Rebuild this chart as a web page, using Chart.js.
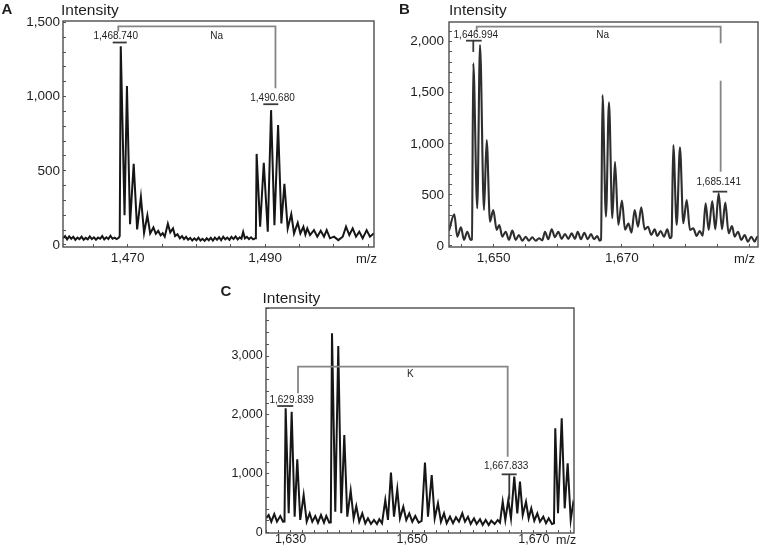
<!DOCTYPE html>
<html>
<head>
<meta charset="utf-8">
<title>Mass spectra A, B, C</title>
<script src="https://cdn.jsdelivr.net/npm/chart.js"></script>
<style>
  body { margin: 0; background: #fff; }
  #page { position: relative; width: 761px; height: 547px; overflow: hidden;
          font-family: "Liberation Sans", Arial, Helvetica, sans-serif; color: #1e1e1e; }
  #page canvas, #page .txt { position: absolute; }
  .txt { white-space: nowrap; }
  .letter { font-weight: bold; font-size: 15px; line-height: 15px; }
  .axis { font-size: 15.5px; line-height: 16px; }
  .unit { font-size: 13px; line-height: 13px; }
</style>
</head>
<body>
<div id="page">
  <canvas id="chartA" width="380" height="275" style="left:0;top:0"></canvas>
  <canvas id="chartB" width="381" height="275" style="left:380px;top:0"></canvas>
  <canvas id="chartC" width="360" height="267" style="left:220px;top:280px"></canvas>

  <div class="txt letter" style="left:1.5px;top:1.3px">A</div>
  <div class="txt axis" style="left:61px;top:1.6px">Intensity</div>
  <div class="txt unit" style="left:356px;top:251.5px">m/z</div>

  <div class="txt letter" style="left:399px;top:1.3px">B</div>
  <div class="txt axis" style="left:449px;top:1.6px">Intensity</div>
  <div class="txt unit" style="left:734px;top:251.5px">m/z</div>

  <div class="txt letter" style="left:220.5px;top:283px">C</div>
  <div class="txt axis" style="left:262.5px;top:290px">Intensity</div>
  <div class="txt unit" style="left:556px;top:534px;font-size:12.5px">m/z</div>
</div>

<script>
// ---------- panel A (Na adduct, 1,468.740 / 1,490.680)
var aMz = [1460.6, 1460.9, 1461.2, 1461.5, 1461.8, 1462.1, 1462.4, 1462.7, 1463.0, 1463.3,
  1463.6, 1463.9, 1464.2, 1464.5, 1464.8, 1465.1, 1465.4, 1465.7, 1466.0, 1466.3,
  1466.6, 1466.9, 1467.2, 1467.5, 1467.8, 1468.1, 1468.4, 1468.7, 1468.85, 1469.0,
  1469.55, 1469.9, 1470.35, 1470.88, 1471.38, 1471.93, 1472.39, 1472.87, 1473.28, 1473.75,
  1474.1, 1474.45, 1474.8, 1475.1, 1475.4, 1475.85, 1476.2, 1476.6, 1476.9, 1477.25,
  1477.6, 1477.9, 1478.2, 1478.5, 1478.8, 1479.1, 1479.4, 1479.7, 1480.0, 1480.3,
  1480.6, 1480.9, 1481.2, 1481.5, 1481.8, 1482.1, 1482.4, 1482.7, 1483.0, 1483.3,
  1483.6, 1483.9, 1484.2, 1484.5, 1484.8, 1485.1, 1485.4, 1485.7, 1486.0, 1486.3,
  1486.55, 1486.8, 1487.05, 1487.35, 1487.65, 1487.95, 1488.25, 1488.55, 1488.65, 1488.76,
  1489.27, 1489.8, 1490.38, 1490.86, 1491.35, 1491.88, 1492.36, 1492.8, 1493.28, 1493.8,
  1494.2, 1494.74, 1495.12, 1495.56, 1495.85, 1496.13, 1496.53, 1497.1, 1497.58, 1498.08,
  1498.56, 1498.95, 1499.43, 1500.02, 1500.64, 1501.28, 1501.76, 1502.24, 1502.73, 1503.21,
  1503.69, 1504.18, 1504.76, 1505.24, 1505.83];
var aIntensity = [45, 60, 38, 58, 42, 55, 35, 50, 40, 56,
  36, 48, 38, 58, 40, 52, 36, 50, 42, 60,
  38, 52, 40, 62, 42, 50, 40, 48, 60, 1340,
  200, 1072, 140, 547, 105, 323, 82, 200, 78, 118,
  75, 95, 65, 80, 56, 143, 85, 112, 60, 72,
  45, 60, 40, 55, 35, 48, 30, 45, 32, 50,
  30, 42, 28, 45, 32, 48, 30, 50, 35, 52,
  32, 55, 38, 50, 35, 55, 40, 58, 38, 52,
  42, 88, 45, 55, 40, 52, 38, 45, 55, 614,
  123, 554, 89, 909, 134, 808, 145, 413, 112, 208,
  78, 150, 78, 123, 70, 112, 67, 100, 56, 96,
  56, 100, 45, 56, 33, 56, 123, 67, 112, 56,
  90, 45, 100, 56, 80];
var aXLabels = [1470, 1490];
var aYLabels = [0, 500, 1000, 1500];
var aBrackets = [[[1468.64, 1440], [1468.64, 1474], [1491.5, 1474], [1491.5, 1057]]];
var aMarks = [[[1467.83, 1365], [1469.87, 1365]], [[1489.73, 949], [1491.91, 949]]];
var aTexts = [['1,468.740', 1468.27, 1405], ['1,490.680', 1491.07, 989], ['Na', 1482.96, 1405]];

// ---------- panel B (Na adduct, 1,646.994 / 1,685.141)
var bMz = [1643.02, 1643.85, 1644.31, 1644.89, 1645.36, 1645.87, 1646.40, 1646.6, 1646.81, 1647.43,
  1647.86, 1648.48, 1648.90, 1649.42, 1649.93, 1650.46, 1650.87, 1651.34, 1651.87, 1652.38,
  1652.90, 1653.43, 1653.94, 1654.46, 1654.99, 1655.50, 1656.02, 1656.55, 1657.06, 1657.58,
  1658.00, 1658.52, 1659.05, 1659.56, 1660.08, 1660.61, 1661.12, 1661.64, 1662.17, 1662.68,
  1663.11, 1663.62, 1664.14, 1664.67, 1665.18, 1665.65, 1666.16, 1666.54, 1666.75, 1666.98,
  1667.52, 1667.99, 1668.51, 1668.93, 1669.44, 1670.02, 1670.49, 1671.03, 1671.50, 1672.00,
  1672.52, 1673.03, 1673.56, 1674.08, 1674.59, 1675.12, 1675.53, 1676.06, 1676.58, 1677.09,
  1677.51, 1677.75, 1678.03, 1678.56, 1679.07, 1679.59, 1680.12, 1680.63, 1681.15, 1681.68,
  1682.15, 1682.62, 1683.08, 1683.55, 1684.11, 1684.58, 1685.11, 1685.63, 1686.14, 1686.67,
  1687.19, 1687.61, 1688.13, 1688.64, 1689.17, 1689.68, 1690.20, 1690.73, 1691.14, 1691.25];
var bIntensity = [150, 310, 91, 183, 59, 140, 59, 65, 1788, 369,
  1968, 352, 1038, 238, 352, 157, 206, 91, 140, 59,
  150, 59, 108, 52, 91, 52, 85, 52, 75, 55,
  140, 66, 163, 85, 140, 70, 117, 70, 124, 70,
  140, 66, 130, 66, 117, 66, 98, 52, 60, 1478,
  287, 1407, 271, 825, 206, 444, 160, 220, 130, 352,
  189, 379, 163, 189, 108, 163, 98, 147, 91, 163,
  75, 90, 989, 206, 966, 222, 450, 157, 173, 98,
  147, 100, 418, 157, 440, 163, 516, 163, 424, 124,
  196, 91, 140, 59, 108, 42, 91, 42, 91, 85];
var bXLabels = [1650, 1670];
var bYLabels = [0, 500, 1000, 1500, 2000];
var bBrackets = [[[1647.34, 2098], [1647.34, 2147], [1685.42, 2147], [1685.42, 1984]],
  [[1685.42, 1618], [1685.42, 727]]];
var bMarks = [[[1645.67, 2010], [1648.12, 2010]], [[1646.81, 2010], [1646.81, 1900]],
  [[1684.17, 532], [1686.45, 532]]];
var bTexts = [['1,646.994', 1647.2, 2066], ['Na', 1667.0, 2066], ['1,685.141', 1685.12, 620]];

// ---------- panel C (K adduct, 1,629.839 / 1,667.833)
var cMz = [1625.97, 1626.41, 1626.84, 1627.33, 1627.77, 1628.32, 1628.76, 1629.01, 1629.20, 1629.70,
  1630.19, 1630.68, 1631.11, 1631.60, 1632.16, 1632.66, 1633.15, 1633.58, 1634.07, 1634.51,
  1635.01, 1635.50, 1635.88, 1636.37, 1636.62, 1636.82, 1637.36, 1637.85, 1638.34, 1638.84,
  1639.33, 1639.89, 1640.38, 1640.81, 1641.30, 1641.80, 1642.29, 1642.73, 1643.23, 1643.72,
  1644.21, 1644.59, 1645.04, 1645.58, 1646.02, 1646.51, 1647.01, 1647.55, 1647.99, 1648.54,
  1649.03, 1649.52, 1650.02, 1650.51, 1651.07, 1651.55, 1652.10, 1652.60, 1653.21, 1653.70,
  1654.24, 1654.73, 1655.23, 1655.67, 1656.21, 1656.71, 1657.20, 1657.69, 1658.24, 1658.68,
  1659.17, 1659.62, 1660.16, 1660.60, 1661.15, 1661.59, 1662.08, 1662.58, 1663.00, 1663.56,
  1664.06, 1664.43, 1664.88, 1665.31, 1665.80, 1666.24, 1666.78, 1667.28, 1667.72, 1668.17,
  1668.71, 1669.15, 1669.58, 1670.07, 1670.57, 1671.01, 1671.55, 1672.00, 1672.44, 1672.98,
  1673.31, 1673.52, 1673.97, 1674.58, 1675.07, 1675.56, 1676.06, 1676.48, 1676.6];
var cIntensity = [244, 300, 187, 317, 187, 283, 187, 190, 2112, 329,
  2054, 272, 1246, 216, 640, 187, 329, 187, 283, 170,
  300, 170, 283, 170, 175, 3385, 357, 3170, 329, 1659,
  272, 713, 244, 453, 187, 329, 160, 244, 148, 216,
  148, 228, 160, 555, 216, 1019, 272, 737, 244, 441,
  216, 329, 187, 283, 170, 200, 1189, 272, 980, 244,
  499, 187, 329, 160, 272, 160, 261, 187, 329, 187,
  272, 148, 244, 148, 228, 131, 216, 131, 204, 148,
  216, 170, 526, 216, 555, 244, 951, 329, 866, 300,
  526, 244, 414, 204, 329, 187, 272, 160, 244, 148,
  160, 1772, 329, 1942, 414, 1178, 216, 509, 480];
var cXLabels = [1630, 1650, 1670];
var cYLabels = [0, 1000, 2000, 3000];
var cBrackets = [[[1631.23, 2367], [1631.23, 2818], [1665.70, 2818], [1665.70, 1290]]];
var cMarks = [[[1627.82, 2151], [1630.45, 2151]], [[1664.71, 991], [1667.18, 991]],
  [[1665.96, 991], [1665.96, 560]]];
var cTexts = [['1,629.839', 1630.19, 2253], ['1,667.833', 1665.45, 1120], ['K', 1649.69, 2694]];

var FONT = '"Liberation Sans", Arial, Helvetica, sans-serif';

function thousands(v)
{
    return String(v).replace(/\B(?=(\d{3})+(?!\d))/g, ',');
}

// tick values every `step` inside [min, max]
function stepTicks(min, max, step)
{
    var t = [];
    for (var v = Math.ceil(min / step) * step; v <= max; v += step) {
        t.push({ value: v });
    }
    return t;
}

function Spectrum(canvasId, mz, intensity)
{
    this.canvasId = canvasId;
    this.data = {
        datasets: [
            {
                data: mz.map(function (m, i) { return { x: m, y: intensity[i] }; }),
                borderColor: '#1e1e1e',
                borderWidth: 1.5,
                pointRadius: 0,
                tension: 0,
                fill: false
            }
        ]
    };
    this.brackets = [];
    this.marks = [];
    this.texts = [];
    this.chart = undefined;
}

Spectrum.prototype.annotate = function (brackets, marks, texts)
{
    this.brackets = brackets;
    this.marks = marks;
    this.texts = texts;
};

Spectrum.prototype.render = function (o)
{
    var self = this;
    var ds = this.data.datasets[0];
    if (o.lineColor) ds.borderColor = o.lineColor;
    if (o.lineWidth) ds.borderWidth = o.lineWidth;
    if (o.smooth) ds.cubicInterpolationMode = 'monotone';

    // frame, bracket lines and peak labels, placed through the scales
    var overlay = {
        id: 'overlay',
        afterDatasetsDraw: function (chart) {
            var ctx = chart.ctx, a = chart.chartArea;
            var x = chart.scales.x, y = chart.scales.y;
            function path(pts) {
                ctx.beginPath();
                pts.forEach(function (p, i) {
                    var px = x.getPixelForValue(p[0]), py = y.getPixelForValue(p[1]);
                    if (i) ctx.lineTo(px, py); else ctx.moveTo(px, py);
                });
                ctx.stroke();
            }
            ctx.save();
            ctx.strokeStyle = '#4d4d4d';
            ctx.lineWidth = 1.4;
            ctx.strokeRect(a.left, a.top, a.right - a.left, a.bottom - a.top);
            ctx.strokeStyle = '#858585';
            ctx.lineWidth = 1.8;
            self.brackets.forEach(path);
            ctx.strokeStyle = '#3a3a3a';
            ctx.lineWidth = 1.8;
            self.marks.forEach(path);
            ctx.fillStyle = '#1e1e1e';
            ctx.font = '10px ' + FONT;
            ctx.textAlign = 'center';
            ctx.textBaseline = 'middle';
            self.texts.forEach(function (t) {
                ctx.fillText(t[0], x.getPixelForValue(t[1]), y.getPixelForValue(t[2]));
            });
            ctx.restore();
        }
    };

    var tickFont = { family: FONT, size: o.fontSize };
    this.chart = new Chart(document.getElementById(this.canvasId), {
        type: 'line',
        data: this.data,
        options: {
            responsive: false,
            animation: false,
            events: [],
            layout: { padding: { left: 0, top: o.top, right: o.right, bottom: 0 } },
            plugins: { legend: { display: false }, tooltip: { enabled: false } },
            scales: {
                x: {
                    type: 'linear',
                    min: o.xMin, max: o.xMax,
                    border: { display: false },
                    grid: { drawOnChartArea: false, drawTicks: true, tickLength: -3, color: '#555' },
                    ticks: {
                        autoSkip: false, maxRotation: 0, minRotation: 0,
                        padding: o.xPad, color: '#1e1e1e', font: tickFont,
                        callback: function (v) { return o.xLabels.indexOf(v) >= 0 ? thousands(v) : ''; }
                    },
                    afterBuildTicks: function (s) { s.ticks = stepTicks(o.xMin, o.xMax, o.xStep); },
                    afterFit: function (s) { s.height = o.axisH; }
                },
                y: {
                    min: o.yMin, max: o.yMax,
                    border: { display: false },
                    grid: { drawOnChartArea: false, drawTicks: true, tickLength: -3, color: '#555' },
                    ticks: {
                        autoSkip: false,
                        padding: o.yPad, color: '#1e1e1e', font: tickFont,
                        callback: function (v) { return o.yLabels.indexOf(v) >= 0 ? thousands(v) : ''; }
                    },
                    afterBuildTicks: function (s) { s.ticks = stepTicks(o.yMin, o.yMax, o.yStep); },
                    afterFit: function (s) { s.width = o.left; }
                }
            }
        },
        plugins: [overlay]
    });
};

var specA = new Spectrum('chartA', aMz, aIntensity);
specA.annotate(aBrackets, aMarks, aTexts);
specA.render({
    left: 63, top: 21, right: 6, axisH: 28,
    xMin: 1460.6, xMax: 1505.83, xStep: 5, xLabels: aXLabels,
    yMin: -13.5, yMax: 1510, yStep: 100, yLabels: aYLabels,
    fontSize: 13.5, xPad: 6.5, yPad: 6, lineColor: '#161616', lineWidth: 2
});

var specB = new Spectrum('chartB', bMz, bIntensity);
specB.annotate(bBrackets, bMarks, bTexts);
specB.render({
    left: 69, top: 22, right: 3, axisH: 28,
    xMin: 1643.02, xMax: 1691.25, xStep: 5, xLabels: bXLabels,
    yMin: -10, yMax: 2193, yStep: 100, yLabels: bYLabels,
    fontSize: 13.5, xPad: 6.5, yPad: 8, lineColor: '#2e2e2e', lineWidth: 2.1, smooth: true
});

var specC = new Spectrum('chartC', cMz, cIntensity);
specC.annotate(cBrackets, cMarks, cTexts);
specC.render({
    left: 46, top: 28, right: 6, axisH: 14,
    xMin: 1625.97, xMax: 1676.6, xStep: 2, xLabels: cXLabels,
    yMin: -5, yMax: 3815, yStep: 200, yLabels: cYLabels,
    fontSize: 12.5, xPad: 2.5, yPad: 6.3, lineColor: '#161616', lineWidth: 2
});
</script>
</body>
</html>
